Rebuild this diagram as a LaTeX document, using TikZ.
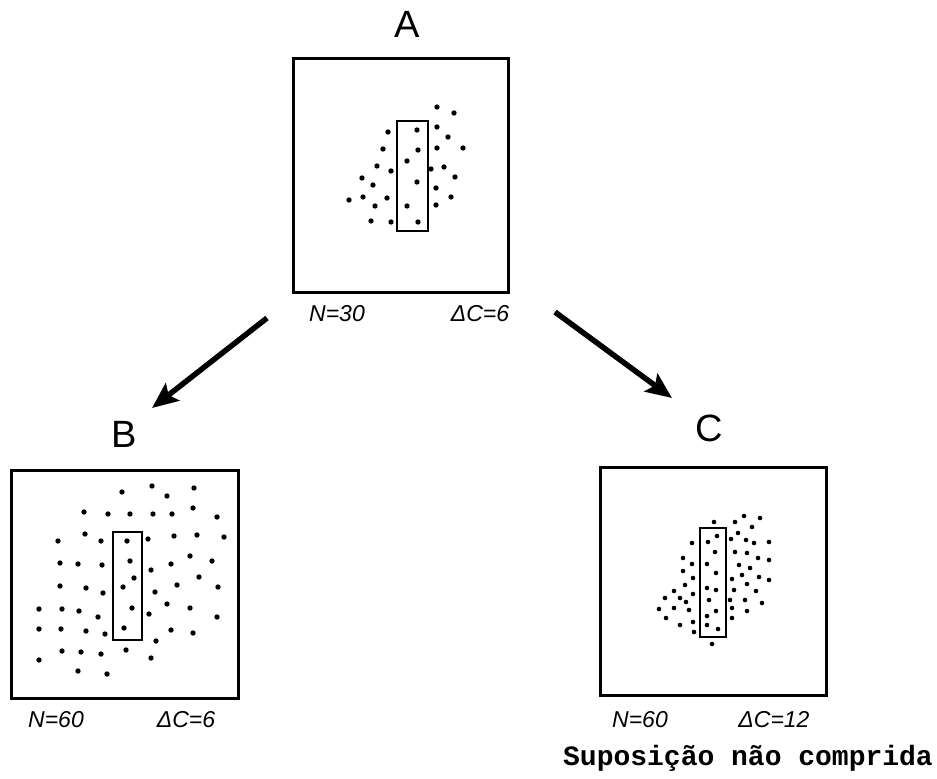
\documentclass[tikz,border=0pt]{standalone}
\usepackage{fontspec}
\setmainfont{Liberation Sans}
\newfontfamily\monofont{Liberation Mono}
\usetikzlibrary{arrows.meta}

\begin{document}
\begin{tikzpicture}[x=1pt, y=-1pt,
    panel/.style={line width=3pt},
    slit/.style={line width=2.2pt},
    pt/.style={fill=black},
    flow/.style={line width=5.5pt, -{Stealth[length=26pt, width=22pt, inset=5pt]}},
    tag/.style={font=\fontsize{38}{40}\selectfont},
    stat/.style={font=\fontsize{23}{25}\selectfont\itshape}]
  \useasboundingbox (0,0) rectangle (937,779);

  % Panel A
  \node[tag] (tagA) at (407,24) {A};
  \draw[panel] (293,58) rectangle (508,292);
  \draw[slit] (397,121) rectangle (428,231);
  \foreach \x/\y in {437/107, 454/113, 417/130, 388/132, 437/127, 448/137, 383/149,
      418/150, 437/148, 463/148, 407/161, 377/166, 391/171, 431/169, 444/167,
      362/178, 373/185, 417/182, 455/177, 436/188, 349/200, 363/197, 387/198,
      375/206, 407/206, 436/205, 451/197, 371/221, 391/222, 418/222}
    \fill[pt] (\x,\y) circle (2.7pt);
  \node[stat] (nA) at (337,314) {N=30};
  \node[stat] (dA) at (480,314) {ΔC=6};

  % Panel B
  \node[tag] (tagB) at (124,434) {B};
  \draw[panel] (11,470) rectangle (238,698);
  \draw[slit] (113,532) rectangle (142,640);
  \foreach \x/\y in {122/492, 152/486, 167/496, 194/488, 84/512, 108/514, 130/514,
      153/514, 172/514, 193/508, 217/517, 58/541, 85/534, 101/541, 127/541,
      148/539, 174/536, 197/535, 224/537, 60/563, 78/564, 102/565, 130/561,
      151/570, 171/564, 190/556, 212/561, 134/578, 199/577, 60/586, 86/588,
      103/593, 123/587, 155/592, 177/585, 218/587, 39/609, 62/609, 79/611,
      98/617, 132/608, 149/614, 167/604, 190/608, 217/617, 39/629, 61/629,
      86/631, 105/634, 124/628, 171/630, 193/633, 156/641, 62/651, 81/652,
      101/654, 126/650, 151/658, 39/660, 78/671, 107/674}
    \fill[pt] (\x,\y) circle (2.7pt);
  \node[stat] (nB) at (56,720) {N=60};
  \node[stat] (dB) at (186,720) {ΔC=6};

  % Panel C
  \node[tag] (tagC) at (709,428) {C};
  \draw[panel] (600,467) rectangle (826,695);
  \draw[slit] (700,528) rectangle (726,637);
  \foreach \x/\y in {714/522, 735/522, 744/516, 760/518, 752/527, 738/533, 717/536,
      708/542, 692/543, 731/539, 746/540, 754/543, 769/542, 715/552, 735/552,
      747/553, 758/558, 769/560, 683/558, 692/564, 707/564, 739/565, 750/568,
      683/571, 716/573, 742/575, 759/577, 693/578, 732/579, 769/580, 685/585,
      747/584, 707/588, 716/590, 734/590, 756/591, 674/591, 693/594, 665/598,
      680/598, 686/602, 709/600, 730/600, 745/600, 762/603, 659/609, 674/608,
      689/610, 716/611, 732/608, 747/611, 666/618, 707/616, 732/618, 693/622,
      680/625, 707/625, 718/629, 694/632, 712/644}
    \fill[pt] (\x,\y) circle (2.3pt);
  \node[stat] (nC) at (640,720) {N=60};
  \node[stat] (dC) at (774,720) {ΔC=12};
  \node[font=\monofont\bfseries\fontsize{28}{30}\selectfont] (note) at (748,758) {Suposição não comprida};

  % Arrows
  \coordinate (fromAB) at (267,318);
  \coordinate (toB) at (152,408);
  \coordinate (fromAC) at (555,312);
  \coordinate (toC) at (672,398);
  \draw[flow] (fromAB) -- (toB);
  \draw[flow] (fromAC) -- (toC);
\end{tikzpicture}
\end{document}
